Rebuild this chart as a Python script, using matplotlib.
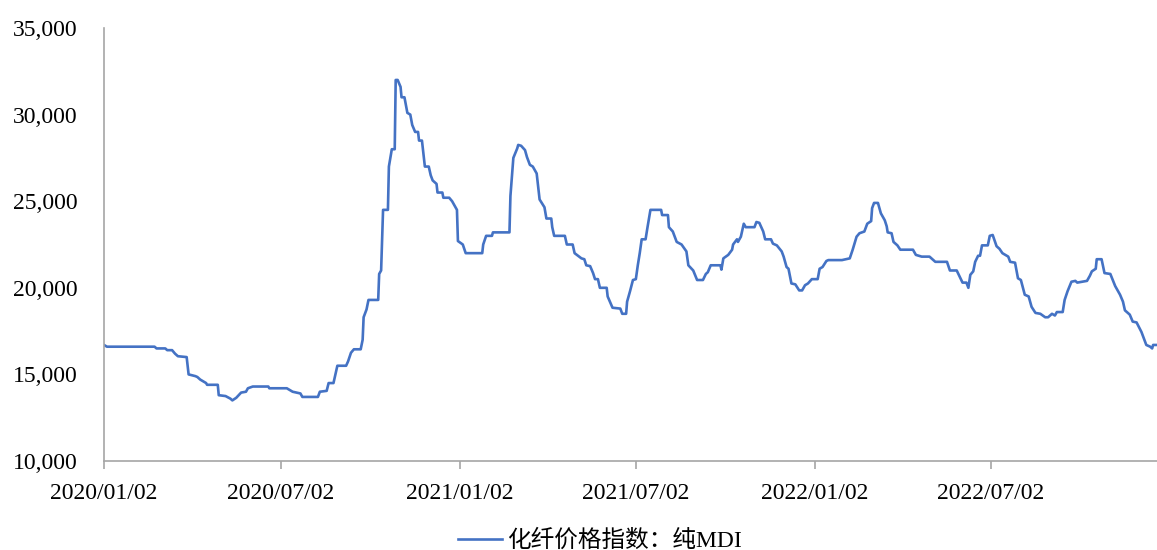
#MDI price index line chart

import numpy as np
import pandas as pd
import matplotlib
matplotlib.use('Agg')
import matplotlib.pyplot as plt
import matplotlib.dates as mdates
from matplotlib.ticker import FuncFormatter

#Data
dates = ['2020-01-02', '2020-01-05', '2020-02-23', '2020-02-25', '2020-03-05', '2020-03-07',
         '2020-03-12', '2020-03-15', '2020-03-18', '2020-03-27', '2020-03-29', '2020-04-05',
         '2020-04-07', '2020-04-10', '2020-04-16', '2020-04-17', '2020-04-28', '2020-04-29',
         '2020-05-06', '2020-05-11', '2020-05-13', '2020-05-17', '2020-05-22', '2020-05-27',
         '2020-05-29', '2020-06-03', '2020-06-19', '2020-06-20', '2020-07-08', '2020-07-14',
         '2020-07-22', '2020-07-24', '2020-08-09', '2020-08-11', '2020-08-18', '2020-08-20',
         '2020-08-25', '2020-08-29', '2020-09-07', '2020-09-09', '2020-09-12', '2020-09-15',
         '2020-09-22', '2020-09-24', '2020-09-25', '2020-09-28', '2020-09-30', '2020-10-10',
         '2020-10-11', '2020-10-13', '2020-10-15', '2020-10-20', '2020-10-21', '2020-10-24',
         '2020-10-27', '2020-10-28', '2020-10-30', '2020-11-02', '2020-11-03', '2020-11-06',
         '2020-11-09', '2020-11-12', '2020-11-14', '2020-11-17', '2020-11-20', '2020-11-21',
         '2020-11-24', '2020-11-25', '2020-11-27', '2020-12-01', '2020-12-03', '2020-12-05',
         '2020-12-09', '2020-12-10', '2020-12-15', '2020-12-16', '2020-12-22', '2020-12-25',
         '2020-12-27', '2020-12-30', '2020-12-31', '2021-01-05', '2021-01-08', '2021-01-25',
         '2021-01-26', '2021-01-29', '2021-02-04', '2021-02-05', '2021-02-22', '2021-02-23',
         '2021-02-26', '2021-03-02', '2021-03-03', '2021-03-06', '2021-03-10', '2021-03-12',
         '2021-03-15', '2021-03-18', '2021-03-22', '2021-03-25', '2021-03-30', '2021-04-01',
         '2021-04-06', '2021-04-07', '2021-04-09', '2021-04-20', '2021-04-22', '2021-04-28',
         '2021-04-30', '2021-05-07', '2021-05-10', '2021-05-12', '2021-05-16', '2021-05-19',
         '2021-05-21', '2021-05-24', '2021-05-26', '2021-06-02', '2021-06-03', '2021-06-08',
         '2021-06-16', '2021-06-18', '2021-06-22', '2021-06-23', '2021-06-26', '2021-06-29',
         '2021-07-02', '2021-07-04', '2021-07-06', '2021-07-08', '2021-07-12', '2021-07-14',
         '2021-07-17', '2021-07-28', '2021-07-29', '2021-08-04', '2021-08-05', '2021-08-09',
         '2021-08-13', '2021-08-18', '2021-08-23', '2021-08-25', '2021-08-30', '2021-09-03',
         '2021-09-09', '2021-09-12', '2021-09-14', '2021-09-17', '2021-09-27', '2021-09-28',
         '2021-09-30', '2021-10-05', '2021-10-09', '2021-10-10', '2021-10-14', '2021-10-15',
         '2021-10-18', '2021-10-21', '2021-10-23', '2021-11-01', '2021-11-03', '2021-11-06',
         '2021-11-10', '2021-11-12', '2021-11-18', '2021-11-20', '2021-11-24', '2021-11-29',
         '2021-12-01', '2021-12-04', '2021-12-06', '2021-12-09', '2021-12-13', '2021-12-17',
         '2021-12-20', '2021-12-23', '2021-12-26', '2021-12-30', '2022-01-05', '2022-01-07',
         '2022-01-10', '2022-01-14', '2022-01-16', '2022-01-30', '2022-02-07', '2022-02-10',
         '2022-02-14', '2022-02-17', '2022-02-22', '2022-02-25', '2022-03-01', '2022-03-02',
         '2022-03-04', '2022-03-08', '2022-03-11', '2022-03-15', '2022-03-17', '2022-03-18',
         '2022-03-22', '2022-03-24', '2022-03-28', '2022-03-31', '2022-04-13', '2022-04-16',
         '2022-04-22', '2022-04-30', '2022-05-06', '2022-05-18', '2022-05-21', '2022-05-28',
         '2022-06-03', '2022-06-07', '2022-06-09', '2022-06-11', '2022-06-14', '2022-06-16',
         '2022-06-19', '2022-06-21', '2022-06-23', '2022-06-29', '2022-07-01', '2022-07-04',
         '2022-07-08', '2022-07-11', '2022-07-14', '2022-07-20', '2022-07-22', '2022-07-27',
         '2022-07-30', '2022-08-02', '2022-08-06', '2022-08-10', '2022-08-13', '2022-08-17',
         '2022-08-22', '2022-08-27', '2022-08-30', '2022-09-03', '2022-09-06', '2022-09-08',
         '2022-09-14', '2022-09-16', '2022-09-19', '2022-09-23', '2022-09-27', '2022-09-29',
         '2022-10-09', '2022-10-12', '2022-10-14', '2022-10-18', '2022-10-19', '2022-10-24',
         '2022-10-27', '2022-11-02', '2022-11-07', '2022-11-12', '2022-11-15', '2022-11-17',
         '2022-11-22', '2022-11-25', '2022-11-29', '2022-12-04', '2022-12-09', '2022-12-13',
         '2022-12-15', '2022-12-16', '2022-12-20']
mdi = [16700, 16600, 16600, 16500, 16500, 16400,
       16400, 16200, 16050, 16000, 15000, 14900,
       14850, 14700, 14500, 14400, 14400, 13800,
       13750, 13600, 13500, 13650, 13950, 14000,
       14200, 14300, 14300, 14200, 14200, 14000,
       13900, 13700, 13700, 14000, 14050, 14500,
       14500, 15500, 15500, 15750, 16250, 16450,
       16450, 17000, 18300, 18750, 19300, 19300,
       20800, 21000, 24500, 24500, 27000, 28000,
       28000, 32000, 32000, 31600, 31000, 31000,
       30100, 30000, 29400, 29000, 29000, 28500,
       28500, 28000, 27000, 27000, 26500, 26200,
       26000, 25500, 25500, 25200, 25200, 25000,
       24800, 24500, 22700, 22500, 22000, 22000,
       22500, 23000, 23000, 23200, 23200, 25300,
       27500, 28050, 28250, 28200, 27950, 27550,
       27100, 27000, 26600, 25100, 24650, 24000,
       24000, 23500, 23000, 23000, 22500, 22500,
       22000, 21700, 21650, 21300, 21250, 20850,
       20500, 20500, 20000, 20000, 19500, 18850,
       18800, 18500, 18500, 19200, 19800, 20450,
       20500, 21300, 22000, 22800, 22800, 23500,
       24500, 24500, 24200, 24200, 23500, 23250,
       22650, 22500, 22100, 21300, 21000, 20450,
       20450, 20800, 20900, 21300, 21300, 21050,
       21700, 21900, 22200, 22500, 22800, 22650,
       22950, 23700, 23500, 23500, 23800, 23750,
       23250, 22800, 22800, 22550, 22450, 22100,
       21800, 21200, 21100, 20250, 20200, 19850,
       19850, 20150, 20250, 20500, 20500, 21100,
       21200, 21550, 21600, 21600, 21700, 22200,
       22950, 23150, 23250, 23700, 23850, 24600,
       24900, 24900, 24300, 23900, 23550, 23200,
       23150, 22650, 22450, 22200, 22200, 21900,
       21800, 21800, 21500, 21500, 21000, 21000,
       20300, 20300, 20000, 20750, 20950, 21500,
       21850, 21850, 22450, 22450, 23000, 23050,
       22400, 22250, 22000, 21800, 21500, 21450,
       20550, 20450, 19600, 19500, 18900, 18550,
       18500, 18300, 18300, 18500, 18400, 18600,
       18600, 19300, 19800, 20350, 20400, 20300,
       20400, 20700, 20950, 21100, 21650, 21650,
       20850, 20800, 20100, 19600, 19200, 18700,
       18450, 18050, 18000, 17450, 16700, 16600,
       16500, 16700, 16700]
tick_dates = ['2020-01-02', '2020-07-02', '2021-01-02', '2021-07-02', '2022-01-02', '2022-07-02']
series_name = '化纤价格指数：纯MDI'

df = pd.DataFrame({'date': pd.to_datetime(dates), 'mdi': mdi})

plt.rcParams['font.family'] = ['Liberation Serif', 'Noto Sans CJK SC']

fig = plt.figure(figsize=(11.57, 5.5), dpi=100)
ax = fig.add_axes([0.0899, 0.1618, 0.9101, 0.7873])

ax.plot(df['date'], df['mdi'], color='#4472C4', linewidth=1.9, label=series_name)

#Axes limits and ticks
ax.set_ylim(10000, 35000)
ax.set_yticks(np.arange(10000, 35001, 5000))
ax.yaxis.set_major_formatter(FuncFormatter(lambda v, p: '{:,.0f}'.format(v)))
ax.set_xlim(pd.Timestamp(dates[0]), pd.Timestamp(dates[-1]))
ax.set_xticks(pd.to_datetime(tick_dates))
ax.xaxis.set_major_formatter(mdates.DateFormatter('%Y/%m/%d'))

for s in ['top', 'right']:
    ax.spines[s].set_visible(False)
for s in ['left', 'bottom']:
    ax.spines[s].set_color('#a6a6a6')
    ax.spines[s].set_linewidth(1.2)

ax.tick_params(axis='y', length=0, pad=19, labelsize=17)
ax.tick_params(axis='x', direction='out', length=6, width=1.2, color='#a6a6a6', pad=10, labelsize=17)

#Legend at the bottom
fig.legend(loc='lower center', bbox_to_anchor=(0.5186, -0.042), frameon=False, fontsize=17,
           handlelength=1.86, handletextpad=0.2)

plt.savefig('out.png', dpi=100)
